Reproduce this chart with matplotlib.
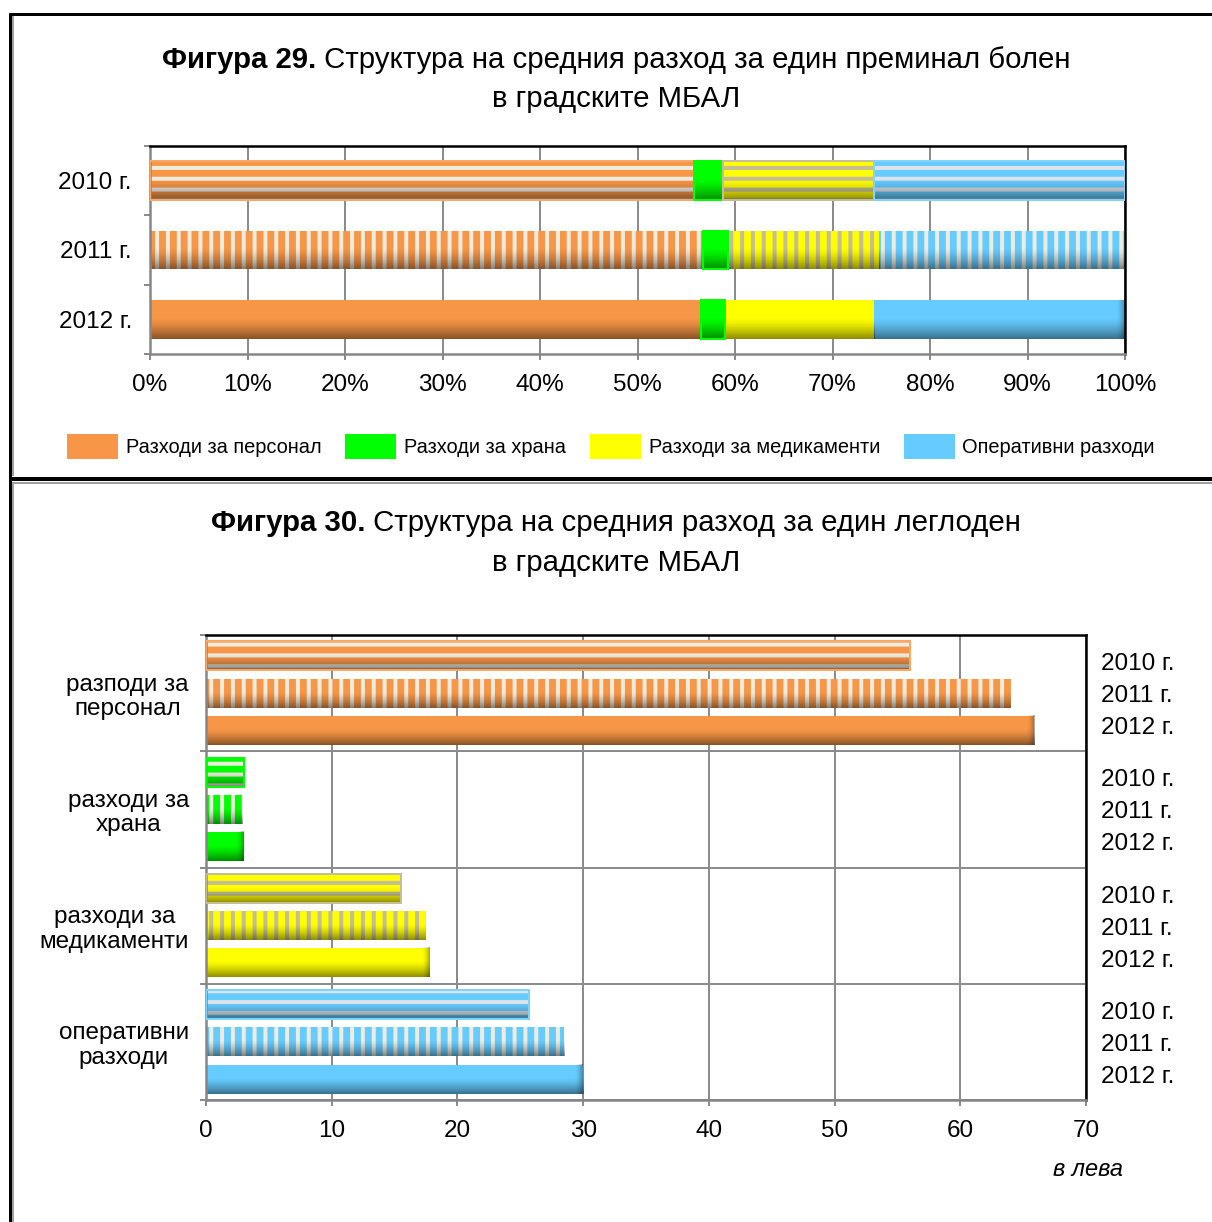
import numpy as np
import matplotlib
matplotlib.use('Agg')
import matplotlib.pyplot as plt
import matplotlib.transforms as mtransforms
from matplotlib.patches import Patch
from matplotlib.lines import Line2D

# ---------------- data ----------------
years = ['2010 г.', '2011 г.', '2012 г.']
series = ['Разходи за персонал', 'Разходи за храна',
          'Разходи за медикаменти', 'Оперативни разходи']
# Figure 29: structure, %
share_2010 = [55.8, 3.0, 15.5, 25.7]
share_2011 = [56.7, 2.6, 15.5, 25.2]
share_2012 = [56.5, 2.5, 15.3, 25.7]
pct_ticks = [0, 10, 20, 30, 40, 50, 60, 70, 80, 90, 100]
# Figure 30: BGN per bed-day
categories = ['разподи за\nперсонал', 'разходи за\nхрана',
              'разходи за\nмедикаменти', 'оперативни\nразходи']
lev_2010 = [56.0, 3.0, 15.5, 25.7]
lev_2011 = [64.0, 2.9, 17.5, 28.5]
lev_2012 = [65.9, 3.0, 17.8, 30.0]
lev_ticks = [0, 10, 20, 30, 40, 50, 60, 70]

# ---------------- style ----------------
DPI = 130
W, H = 1212, 1222


def P(px):
    return px * 72.0 / DPI


def fx(px):
    return px / W


def fy(py):
    return 1 - py / H


plt.rcParams['font.family'] = ['Liberation Sans', 'DejaVu Sans']
plt.rcParams['hatch.linewidth'] = P(4)

colors = ['#F79646', '#00FF00', '#FFFF00', '#66CCFF']
stripe_2010 = ['#EEEBDF', '#EEEBDF', '#C4BD97', '#DCE3EC']
stripe_2011 = ['#EEEBDF', '#EEEBDF', '#C4BD97', '#EEEBDF']
outline = ['#F9A765', '#00FF00', '#C4BD97', '#7FD3FF']
year_hatch = ['--', '||', None]
stripes = [stripe_2010, stripe_2011, None]
GRID = '#8C8C8C'
TICK = 24.3

fig = plt.figure(figsize=(W / DPI, H / DPI), dpi=DPI)


def shade(ax, rect, strength=0.45, right_end=0.0):
    x0, y0 = rect.get_x(), rect.get_y()
    w, h = rect.get_width(), rect.get_height()
    t = np.linspace(0, 1, 64)
    img = np.zeros((64, 1, 4))
    img[:, 0, 3] = np.clip((t - 0.45) / 0.55, 0, 1) ** 1.4 * strength
    ax.imshow(img, extent=(x0, x0 + w, y0, y0 + h), origin='upper',
              aspect='auto', interpolation='bilinear', zorder=2.5)
    if right_end > 0 and w > right_end:
        s = np.linspace(0, 1, 32)
        img2 = np.zeros((1, 32, 4))
        img2[0, :, 3] = s ** 2 * 0.35
        ax.imshow(img2, extent=(x0 + w - right_end, x0 + w, y0, y0 + h),
                  origin='upper', aspect='auto', interpolation='bilinear',
                  zorder=2.6)


def style_axes(ax):
    for s in ['left', 'bottom']:
        ax.spines[s].set_color('#868686')
        ax.spines[s].set_linewidth(P(2.5))
    for s in ['top', 'right']:
        ax.spines[s].set_color('black')
        ax.spines[s].set_linewidth(P(2.5))
    ax.set_axisbelow(True)


# ================= Figure 29 =================
ax1 = fig.add_axes([fx(150), fy(354), fx(1125) - fx(150), (354 - 146) / H])
top_shares = [share_2010, share_2011, share_2012]
for j, shares in enumerate(top_shares):
    ypos = len(years) - 1 - j
    left = 0.0
    for k, v in enumerate(shares):
        hatch = year_hatch[j] if k != 1 else None
        ec = stripes[j][k] if hatch else 'none'
        bars = ax1.barh(ypos, v, left=left, height=0.56, color=colors[k],
                        edgecolor=ec, linewidth=0, hatch=hatch, zorder=2)
        shade(ax1, bars[0], strength=0.45,
              right_end=1.0 if (k == 3 and j == 2) else 0.0)
        if j == 0 or k == 1:
            ax1.barh(ypos, v, left=left, height=0.56, fill=False,
                     edgecolor=outline[k], linewidth=P(2), zorder=3)
        left += v

ax1.set_xlim(0, 100)
ax1.set_ylim(-0.5, len(years) - 0.5)
ax1.set_xticks(pct_ticks)
ax1.set_xticklabels([f'{v}%' for v in pct_ticks])
ax1.set_yticks(np.arange(-0.5, len(years), 1.0))
ax1.set_yticklabels([])
ax1.set_yticks(range(len(years)), minor=True)
ax1.set_yticklabels(years[::-1], minor=True)
ax1.xaxis.grid(True, color=GRID, linewidth=P(2))
ax1.tick_params(axis='x', length=P(6), width=P(2), color=GRID,
                pad=P(14), labelsize=P(TICK))
ax1.tick_params(axis='y', which='major', length=P(6), width=P(2),
                color=GRID)
ax1.tick_params(axis='y', which='minor', length=0, pad=P(18),
                labelsize=P(TICK))
style_axes(ax1)

LEG = 20.0
fig.legend(handles=[Patch(facecolor=c, edgecolor='none') for c in colors],
           labels=series, loc='center left',
           bbox_to_anchor=(fx(67), fy(446.5)), ncol=4, frameon=False,
           prop={'size': P(LEG)},
           handlelength=51 / LEG, handleheight=31 / LEG,
           handletextpad=8 / LEG, columnspacing=23.5 / LEG,
           borderpad=0, borderaxespad=0)

# ================= Figure 30 =================
ax2 = fig.add_axes([fx(206), fy(1100), fx(1086) - fx(206), (1100 - 635) / H])
lev_years = [lev_2010, lev_2011, lev_2012]
offsets = [0.32, 0.0, -0.32]
ncat = len(categories)
for j, vals in enumerate(lev_years):
    for i, v in enumerate(vals):
        ypos = ncat - 1 - i + offsets[j]
        hatch = year_hatch[j]
        ec = stripes[j][i] if hatch else 'none'
        bars = ax2.barh(ypos, v, height=0.25, color=colors[i], edgecolor=ec,
                        linewidth=0, hatch=hatch, zorder=2)
        shade(ax2, bars[0], strength=0.45,
              right_end=0.7 if j == 2 else 0.0)
        if j == 0:
            ax2.barh(ypos, v, height=0.25, fill=False, edgecolor=outline[i],
                     linewidth=P(2), zorder=3)

ax2.set_xlim(lev_ticks[0], lev_ticks[-1])
ax2.set_ylim(-0.5, ncat - 0.5)
ax2.set_xticks(lev_ticks)
ax2.set_xticklabels([str(v) for v in lev_ticks])
ax2.set_yticks(np.arange(-0.5, ncat, 1.0))
ax2.set_yticklabels([])
ax2.set_yticks(range(ncat), minor=True)
ax2.set_yticklabels(categories[::-1], minor=True)
for lab in ax2.get_yticklabels(minor=True):
    lab.set_horizontalalignment('right')
    lab.set_multialignment('center')
    lab.set_linespacing(1.15)
ax2.grid(True, which='major', color=GRID, linewidth=P(2))
ax2.tick_params(axis='x', length=P(6), width=P(2), color=GRID,
                pad=P(14), labelsize=P(TICK))
ax2.tick_params(axis='y', which='major', length=P(6), width=P(2),
                color=GRID)
ax2.tick_params(axis='y', which='minor', length=0, pad=P(17),
                labelsize=P(TICK))
style_axes(ax2)

blend = mtransforms.blended_transform_factory(ax2.transAxes, ax2.transData)
for i in range(ncat):
    for j, yl in enumerate(years):
        ax2.text(1 + 15 / 880, ncat - 1 - i + 0.276 * (1 - j) - 0.026, yl,
                 transform=blend, ha='left', va='center', size=P(TICK))

fig.text(fx(1088), fy(1169), 'в лева', style='italic', ha='center',
         va='center', size=P(23.5))

# ================= titles =================
TS = P(29.4)
renderer = fig.canvas.get_renderer()


def title_line(bold, rest, base_y):
    tb = fig.text(0, fy(base_y), bold, weight='bold', size=TS,
                  ha='left', va='baseline')
    tr = fig.text(0, fy(base_y), ' ' + rest, size=TS, ha='left',
                  va='baseline')
    wb = tb.get_window_extent(renderer).width
    wr = tr.get_window_extent(renderer).width
    start = 616 - (wb + wr) / 2
    tb.set_x(fx(start))
    tr.set_x(fx(start + wb))


title_line('Фигура 29.', 'Структура на средния разход за един преминал болен', 68)
fig.text(fx(616), fy(107), 'в градските МБАЛ', size=TS, ha='center',
         va='baseline')
title_line('Фигура 30.', 'Структура на средния разход за един леглоден', 531)
fig.text(fx(616), fy(571), 'в градските МБАЛ', size=TS, ha='center',
         va='baseline')

# ================= panel frames =================


def fline(xs, ys, color, lw):
    fig.add_artist(Line2D([fx(x) for x in xs], [fy(y) for y in ys],
                          color=color, linewidth=P(lw),
                          transform=fig.transFigure, solid_capstyle='butt'))


fline([9, W], [14, 14], 'black', 3)
fline([10, 10], [13, H], 'black', 3)
fline([13, 13], [16, 476], '#A0A0A0', 2)
fline([13, 13], [484, H], '#A0A0A0', 2)
fline([10, W], [479, 479], 'black', 4)
fline([12, W], [482.5, 482.5], '#A0A0A0', 2)

fig.savefig('out.png', dpi=DPI, facecolor='white')
